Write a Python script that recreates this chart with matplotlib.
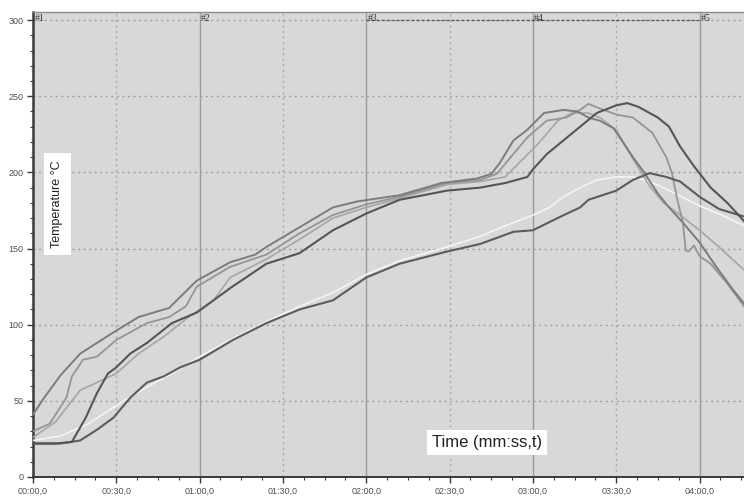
import matplotlib
matplotlib.use("Agg")
import matplotlib.pyplot as plt
from matplotlib.ticker import MultipleLocator, FuncFormatter

# ---------------- data (time in s, temperature in °C) ----------------
a_t = [0, 4, 10, 17, 29, 38, 49, 59, 71, 80, 84, 96, 108, 117, 132, 147, 160, 165, 168,
       173, 178, 184, 191, 196, 200, 204, 209, 212, 216, 220, 225, 229, 234, 240, 246, 252, 256]
a_T = [41, 52, 67, 81, 95, 105, 111, 129, 141, 146, 151, 164, 177, 181, 185, 193, 196, 199, 206,
       221, 228, 239, 241, 240, 236, 234, 229, 221, 210, 200, 186, 177, 167, 154, 138, 123, 114]

b_t = [0, 6, 12, 14, 18, 23, 30, 41, 49, 55, 59, 71, 84, 96, 108, 120, 132, 149, 161, 167,
       172, 178, 185, 192, 197, 200, 204, 210, 216, 223, 228, 230, 232, 234, 235, 236, 238,
       240, 244, 250, 256]
b_T = [30, 35, 52, 66, 77, 79, 90, 101, 105, 112, 125, 138, 146, 160, 172, 179, 184, 193, 195, 199,
       210, 223, 234, 236, 241, 245, 242, 238, 236, 226, 210, 200, 182, 167, 149, 148, 152,
       145, 140, 127, 112]

c_t = [0, 8, 17, 23, 30, 38, 47, 56, 65, 71, 84, 96, 108, 120, 132, 149, 161, 170, 176, 182,
       189, 194, 200, 204, 207, 210, 214, 218, 222, 227, 233, 240, 247, 256]
c_T = [26, 36, 57, 62, 68, 81, 92, 105, 116, 131, 143, 156, 170, 177, 183, 192, 194, 197, 208, 219,
       234, 239, 239, 236, 232, 228, 215, 203, 191, 180, 172, 162, 151, 136]

d_t = [0, 8, 14, 19, 23, 27, 30, 35, 41, 50, 59, 65, 71, 84, 96, 108, 120, 132, 149, 161, 170,
       178, 180, 185, 191, 197, 203, 210, 214, 218, 225, 229, 233, 238, 244, 250, 256]
d_T = [22, 22, 23, 39, 55, 68, 72, 81, 88, 101, 108, 116, 124, 140, 147, 162, 173, 182, 188, 190, 193,
       197, 202, 212, 221, 230, 239, 244, 245.5, 243, 236, 230, 217, 204, 190, 180, 168]

e_t = [0, 5, 10, 17, 23, 29, 35, 41, 47, 53, 60, 72, 84, 96, 108, 120, 132, 149, 161, 173, 180,
       190, 197, 200, 210, 216, 222, 228, 233, 240, 247, 256]
e_T = [22, 22, 22, 24, 31, 39, 52, 62, 66, 72, 77, 90, 101, 110, 116, 131, 140, 148, 153, 161, 162,
       171, 177, 182, 188, 195, 199.5, 197, 194, 184, 176, 171]

f_t = [0, 10, 20, 30, 40, 50, 60, 72, 84, 96, 108, 120, 132, 149, 161, 173, 180, 186, 191, 197,
       203, 210, 216, 222, 228, 240, 248, 256]
f_T = [24, 27, 35, 47, 58, 68, 79, 91, 102, 112, 121, 133, 142, 151, 158, 167, 172, 177, 184, 190,
       195, 197, 197, 194, 189, 178, 172, 165]

series = [
    (f_t, f_T, "#f4f4f4", 1.2),
    (c_t, c_T, "#a6a6a6", 1.2),
    (b_t, b_T, "#959595", 1.3),
    (a_t, a_T, "#7c7c7c", 1.4),
    (e_t, e_T, "#5c5c5c", 1.5),
    (d_t, d_T, "#555555", 1.5),
]

marker_t = [0, 60, 120, 180, 240]
marker_labels = ["#1", "#2", "#3", "#4", "#5"]

# ---------------- figure ----------------
W, H = 744, 499
fig = plt.figure(figsize=(W / 100, H / 100), dpi=100)
fig.patch.set_facecolor("white")
ax = fig.add_axes([33 / W, (H - 477) / H, (W - 33) / W, (477 - 12) / H])
ax.set_facecolor("#d8d8d8")
ax.set_xlim(0, 256)
ax.set_ylim(0, 305.3)

# grid
for t in range(30, 256, 30):
    if t % 60 == 0:
        ax.axvline(t, color="#9a9a9a", lw=1.0, zorder=1)
    else:
        ax.axvline(t, color="#a8a8a8", lw=1.0, ls=(0, (1.5, 2.5)), zorder=1)
for y in range(50, 301, 50):
    ax.axhline(y, color="#a0a0a0", lw=1.0, ls=(0, (1.5, 2.5)), zorder=1)
ax.plot([120, 240], [300, 300], color="#555555", lw=0.9, ls=(0, (2.5, 1.5)), zorder=2)

for t, lab in zip(marker_t, marker_labels):
    ax.text(t + 0.5, 300.8, lab, fontsize=7, color="#333333", ha="left", va="center",
            family="Liberation Serif", zorder=3)

for xs, ys, col, lw in series:
    ax.plot(xs, ys, color=col, lw=lw, zorder=4, solid_joinstyle="round")

# axes styling
ax.spines["right"].set_visible(False)
ax.spines["top"].set_color("#8a8a8a")
ax.spines["top"].set_linewidth(1.0)
ax.spines["left"].set_color("#3a3a3a")
ax.spines["left"].set_linewidth(1.8)
ax.spines["bottom"].set_color("#3a3a3a")
ax.spines["bottom"].set_linewidth(1.4)

ax.xaxis.set_major_locator(MultipleLocator(30))
ax.xaxis.set_minor_locator(MultipleLocator(7.5))
ax.yaxis.set_major_locator(MultipleLocator(50))
ax.yaxis.set_minor_locator(MultipleLocator(10))


def fmt_time(v, pos):
    m = int(v) // 60
    s = int(v) % 60
    return f"{m:02d}:{s:02d},0"


ax.xaxis.set_major_formatter(FuncFormatter(fmt_time))
ax.yaxis.set_major_formatter(FuncFormatter(lambda v, p: f"{int(v)}"))
ax.tick_params(axis="both", which="major", length=4, width=1, color="#3a3a3a",
               labelsize=6.5, labelcolor="#505050", direction="out", pad=3)
ax.tick_params(axis="both", which="minor", length=2.5, width=0.8, color="#3a3a3a",
               direction="out")
for lab in ax.get_xticklabels() + ax.get_yticklabels():
    lab.set_family("Liberation Sans")

# in-plot labels
ax.text(57 / W, (H - 204) / H, "Temperature °C", transform=fig.transFigure, rotation=90,
        ha="center", va="center", fontsize=9, color="#222222", family="Liberation Sans",
        bbox=dict(boxstyle="square,pad=0.6", fc="white", ec="none"), zorder=6)
ax.text(487 / W, (H - 442) / H, "Time (mm:ss,t)", transform=fig.transFigure,
        ha="center", va="center", fontsize=12, color="#222222", family="Liberation Sans",
        bbox=dict(boxstyle="square,pad=0.3", fc="white", ec="none"), zorder=6)

fig.savefig("out.png", dpi=100)
